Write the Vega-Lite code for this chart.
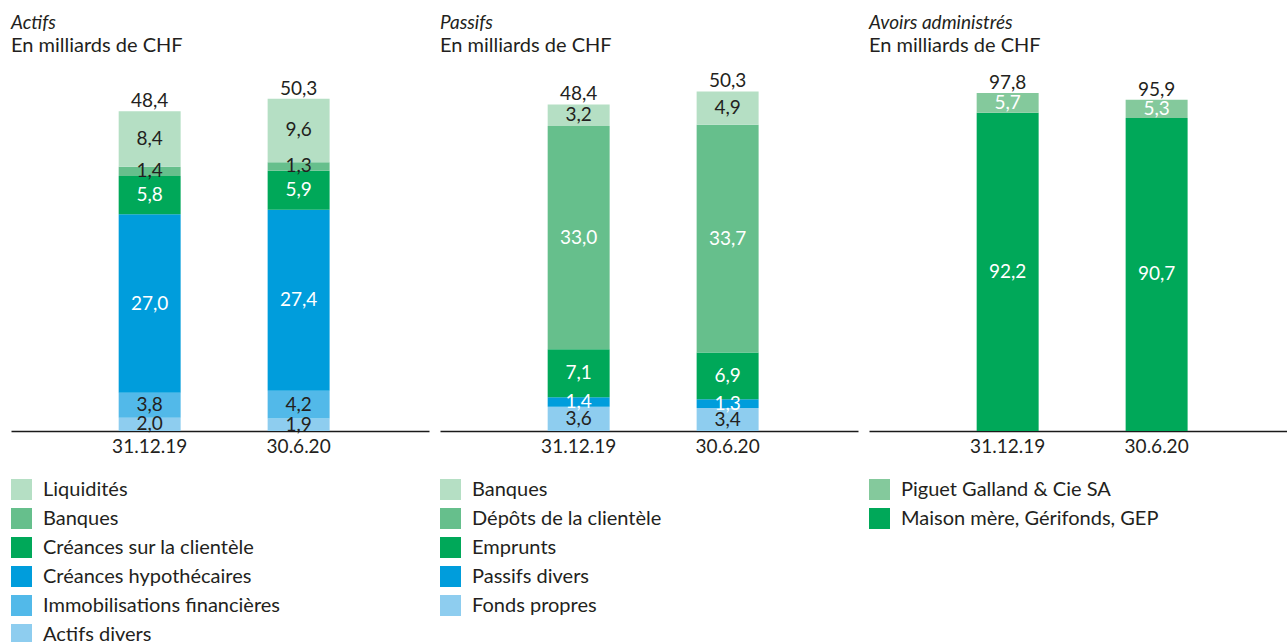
{
  "$schema": "https://vega.github.io/schema/vega-lite/v6.json",
  "padding": {"left": 11, "top": 14, "right": 0, "bottom": 0},
  "spacing": 11,
  "datasets": {
    "actifs": [
      {"date": "31.12.19", "categorie": "Actifs divers", "rang": 1, "valeur": 2.0},
      {"date": "31.12.19", "categorie": "Immobilisations financières", "rang": 2, "valeur": 3.8},
      {"date": "31.12.19", "categorie": "Créances hypothécaires", "rang": 3, "valeur": 27.0},
      {"date": "31.12.19", "categorie": "Créances sur la clientèle", "rang": 4, "valeur": 5.8},
      {"date": "31.12.19", "categorie": "Banques", "rang": 5, "valeur": 1.4},
      {"date": "31.12.19", "categorie": "Liquidités", "rang": 6, "valeur": 8.4},
      {"date": "30.6.20", "categorie": "Actifs divers", "rang": 1, "valeur": 1.9},
      {"date": "30.6.20", "categorie": "Immobilisations financières", "rang": 2, "valeur": 4.2},
      {"date": "30.6.20", "categorie": "Créances hypothécaires", "rang": 3, "valeur": 27.4},
      {"date": "30.6.20", "categorie": "Créances sur la clientèle", "rang": 4, "valeur": 5.9},
      {"date": "30.6.20", "categorie": "Banques", "rang": 5, "valeur": 1.3},
      {"date": "30.6.20", "categorie": "Liquidités", "rang": 6, "valeur": 9.6}
    ],
    "actifs_totaux": [
      {"date": "31.12.19", "total": 48.4},
      {"date": "30.6.20", "total": 50.3}
    ],
    "passifs": [
      {"date": "31.12.19", "categorie": "Fonds propres", "rang": 1, "valeur": 3.6},
      {"date": "31.12.19", "categorie": "Passifs divers", "rang": 2, "valeur": 1.4},
      {"date": "31.12.19", "categorie": "Emprunts", "rang": 3, "valeur": 7.1},
      {"date": "31.12.19", "categorie": "Dépôts de la clientèle", "rang": 4, "valeur": 33.0},
      {"date": "31.12.19", "categorie": "Banques", "rang": 5, "valeur": 3.2},
      {"date": "30.6.20", "categorie": "Fonds propres", "rang": 1, "valeur": 3.4},
      {"date": "30.6.20", "categorie": "Passifs divers", "rang": 2, "valeur": 1.3},
      {"date": "30.6.20", "categorie": "Emprunts", "rang": 3, "valeur": 6.9},
      {"date": "30.6.20", "categorie": "Dépôts de la clientèle", "rang": 4, "valeur": 33.7},
      {"date": "30.6.20", "categorie": "Banques", "rang": 5, "valeur": 4.9}
    ],
    "passifs_totaux": [
      {"date": "31.12.19", "total": 48.4},
      {"date": "30.6.20", "total": 50.3}
    ],
    "avoirs": [
      {"date": "31.12.19", "categorie": "Maison mère, Gérifonds, GEP", "rang": 1, "valeur": 92.2},
      {"date": "31.12.19", "categorie": "Piguet Galland & Cie SA", "rang": 2, "valeur": 5.7},
      {"date": "30.6.20", "categorie": "Maison mère, Gérifonds, GEP", "rang": 1, "valeur": 90.7},
      {"date": "30.6.20", "categorie": "Piguet Galland & Cie SA", "rang": 2, "valeur": 5.3}
    ],
    "avoirs_totaux": [
      {"date": "31.12.19", "total": 97.8},
      {"date": "30.6.20", "total": 95.9}
    ]
  },
  "hconcat": [
    {
      "width": 418,
      "height": 360,
      "title": {"text": "Actifs", "subtitle": "En milliards de CHF"},
      "resolve": {"scale": {"color": "independent"}},
      "layer": [
        {
          "data": {"name": "actifs"},
          "mark": {"type": "bar"},
          "encoding": {
            "x": {"field": "date", "type": "nominal", "scale": {"domain": ["31.12.19", "30.6.20"], "paddingInner": 0.584, "paddingOuter": 0.695, "align": 0.52}},
            "y": {"field": "valeur", "type": "quantitative", "stack": "zero", "scale": {"domain": [0, 54.5], "nice": false, "zero": true}, "axis": null},
            "color": {"field": "categorie", "type": "nominal", "scale": {"domain": ["Liquidités", "Banques", "Créances sur la clientèle", "Créances hypothécaires", "Immobilisations financières", "Actifs divers"], "range": ["#b5dfc4", "#66bf8c", "#00a859", "#009ddc", "#52b9e9", "#8ecdef"]}},
            "order": {"field": "rang", "type": "quantitative", "sort": "ascending"}
          }
        },
        {
          "data": {"name": "actifs"},
          "transform": [
            {"stack": "valeur", "groupby": ["date"], "sort": [{"field": "rang", "order": "ascending"}], "as": ["v0", "v1"]},
            {"calculate": "(datum.v0 + datum.v1) / 2", "as": "milieu"}
          ],
          "mark": {"type": "text", "baseline": "middle"},
          "encoding": {
            "x": {"field": "date", "type": "nominal"},
            "y": {"field": "milieu", "type": "quantitative"},
            "text": {"field": "valeur", "type": "quantitative", "format": ".1f"},
            "color": {"condition": {"test": "indexof(['Créances hypothécaires','Créances sur la clientèle'], datum.categorie) >= 0", "value": "#ffffff"}, "value": "#231f20"}
          }
        },
        {
          "data": {"name": "actifs_totaux"},
          "mark": {"type": "text", "baseline": "alphabetic", "dy": -4, "color": "#231f20"},
          "encoding": {
            "x": {"field": "date", "type": "nominal"},
            "y": {"field": "total", "type": "quantitative"},
            "text": {"field": "total", "type": "quantitative", "format": ".1f"}
          }
        }
      ]
    },
    {
      "width": 418,
      "height": 360,
      "title": {"text": "Passifs", "subtitle": "En milliards de CHF"},
      "resolve": {"scale": {"color": "independent"}},
      "layer": [
        {
          "data": {"name": "passifs"},
          "mark": {"type": "bar"},
          "encoding": {
            "x": {"field": "date", "type": "nominal", "scale": {"domain": ["31.12.19", "30.6.20"], "paddingInner": 0.584, "paddingOuter": 0.695, "align": 0.52}},
            "y": {"field": "valeur", "type": "quantitative", "stack": "zero", "scale": {"domain": [0, 53.25], "nice": false, "zero": true}, "axis": null},
            "color": {"field": "categorie", "type": "nominal", "scale": {"domain": ["Banques", "Dépôts de la clientèle", "Emprunts", "Passifs divers", "Fonds propres"], "range": ["#b5dfc4", "#66bf8c", "#00a859", "#009ddc", "#8ecdef"]}},
            "order": {"field": "rang", "type": "quantitative", "sort": "ascending"}
          }
        },
        {
          "data": {"name": "passifs"},
          "transform": [
            {"stack": "valeur", "groupby": ["date"], "sort": [{"field": "rang", "order": "ascending"}], "as": ["v0", "v1"]},
            {"calculate": "(datum.v0 + datum.v1) / 2", "as": "milieu"}
          ],
          "mark": {"type": "text", "baseline": "middle"},
          "encoding": {
            "x": {"field": "date", "type": "nominal"},
            "y": {"field": "milieu", "type": "quantitative"},
            "text": {"field": "valeur", "type": "quantitative", "format": ".1f"},
            "color": {"condition": {"test": "indexof(['Dépôts de la clientèle','Emprunts','Passifs divers'], datum.categorie) >= 0", "value": "#ffffff"}, "value": "#231f20"}
          }
        },
        {
          "data": {"name": "passifs_totaux"},
          "mark": {"type": "text", "baseline": "alphabetic", "dy": -4, "color": "#231f20"},
          "encoding": {
            "x": {"field": "date", "type": "nominal"},
            "y": {"field": "total", "type": "quantitative"},
            "text": {"field": "total", "type": "quantitative", "format": ".1f"}
          }
        }
      ]
    },
    {
      "width": 418,
      "height": 360,
      "title": {"text": "Avoirs administrés", "subtitle": "En milliards de CHF"},
      "resolve": {"scale": {"color": "independent"}},
      "layer": [
        {
          "data": {"name": "avoirs"},
          "mark": {"type": "bar"},
          "encoding": {
            "x": {"field": "date", "type": "nominal", "scale": {"domain": ["31.12.19", "30.6.20"], "paddingInner": 0.584, "paddingOuter": 0.695, "align": 0.52}},
            "y": {"field": "valeur", "type": "quantitative", "stack": "zero", "scale": {"domain": [0, 104.3], "nice": false, "zero": true}, "axis": null},
            "color": {"field": "categorie", "type": "nominal", "scale": {"domain": ["Piguet Galland & Cie SA", "Maison mère, Gérifonds, GEP"], "range": ["#84c99c", "#00a859"]}},
            "order": {"field": "rang", "type": "quantitative", "sort": "ascending"}
          }
        },
        {
          "data": {"name": "avoirs"},
          "transform": [
            {"stack": "valeur", "groupby": ["date"], "sort": [{"field": "rang", "order": "ascending"}], "as": ["v0", "v1"]},
            {"calculate": "(datum.v0 + datum.v1) / 2", "as": "milieu"}
          ],
          "mark": {"type": "text", "baseline": "middle", "color": "#ffffff"},
          "encoding": {
            "x": {"field": "date", "type": "nominal"},
            "y": {"field": "milieu", "type": "quantitative"},
            "text": {"field": "valeur", "type": "quantitative", "format": ".1f"}
          }
        },
        {
          "data": {"name": "avoirs_totaux"},
          "mark": {"type": "text", "baseline": "alphabetic", "dy": -4, "color": "#231f20"},
          "encoding": {
            "x": {"field": "date", "type": "nominal"},
            "y": {"field": "total", "type": "quantitative"},
            "text": {"field": "total", "type": "quantitative", "format": ".1f"}
          }
        }
      ]
    }
  ],
  "resolve": {"scale": {"color": "independent", "y": "independent", "x": "independent"}, "legend": {"color": "independent"}},
  "config": {
    "font": "Lato",
    "locale": {"number": {"decimal": ",", "thousands": "'", "grouping": [3], "currency": ["", " CHF"]}},
    "view": {"stroke": null},
    "text": {"font": "Lato", "fontSize": 19},
    "axisX": {
      "title": null,
      "labelAngle": 0,
      "labelAlign": "center",
      "ticks": false,
      "grid": false,
      "domainColor": "#1a1a1a",
      "domainWidth": 1.3,
      "labelFont": "Lato",
      "labelFontSize": 19,
      "labelColor": "#231f20",
      "labelPadding": 6
    },
    "title": {
      "anchor": "start",
      "font": "Lato",
      "fontSize": 19,
      "fontStyle": "italic",
      "fontWeight": "normal",
      "color": "#231f20",
      "subtitleFont": "Lato",
      "subtitleFontSize": 20,
      "subtitleColor": "#231f20",
      "subtitlePadding": 3,
      "offset": 15
    },
    "legend": {
      "orient": "bottom",
      "direction": "vertical",
      "columns": 1,
      "title": null,
      "symbolType": "square",
      "symbolSize": 441,
      "symbolStrokeWidth": 0,
      "symbolOpacity": 1,
      "labelFont": "Lato",
      "labelFontSize": 20,
      "labelColor": "#231f20",
      "labelOffset": 11,
      "labelLimit": 400,
      "rowPadding": 8,
      "padding": 0,
      "offset": 23
    }
  }
}
